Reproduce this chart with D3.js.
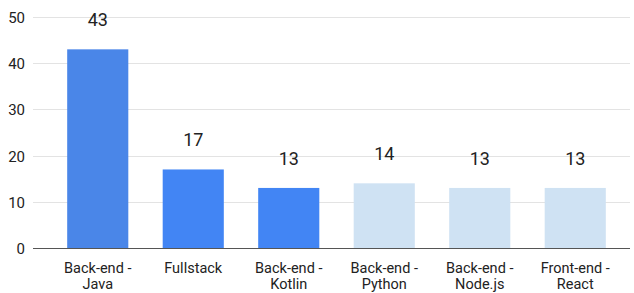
<!DOCTYPE html>
<html>
<head>
<meta charset="utf-8">
<script src="https://cdn.jsdelivr.net/npm/d3@7"></script>
<style>
  body { margin: 0; background: #fff; }
  text { font-family: Roboto, Arial, sans-serif; fill: #222; }
</style>
</head>
<body>
<div id="vis"></div>
<script>
const categories = ["Back-end - Java", "Fullstack", "Back-end - Kotlin", "Back-end - Python", "Back-end - Node.js", "Front-end - React"];
const values = [43, 17, 13, 14, 13, 13];
const barColors = ["#4a86e8", "#4285f4", "#4285f4", "#cfe2f3", "#cfe2f3", "#cfe2f3"];
const yTicks = [0, 10, 20, 30, 40, 50];

const width = 634, height = 293;
const margin = {top: 17, right: 4, bottom: 45, left: 33};

const svg = d3.select("#vis")
    .append("svg")
    .attr("width", width)
    .attr("height", height);

const x = d3.scaleBand()
    .domain(categories)
    .range([50, 623])
    .paddingInner(0.36)
    .paddingOuter(0.18);

const y = d3.scaleLinear()
    .domain([0, 50])
    .range([height - margin.bottom, margin.top]);

// gridlines
svg.append("g")
    .selectAll("line")
    .data(yTicks.filter(d => d > 0))
    .enter()
    .append("line")
    .attr("x1", margin.left)
    .attr("x2", width - margin.right)
    .attr("y1", d => Math.round(y(d)) + 0.5)
    .attr("y2", d => Math.round(y(d)) + 0.5)
    .attr("stroke", "#e3e3e3")
    .attr("stroke-width", 1);

// y tick labels
svg.append("g")
    .selectAll("text")
    .data(yTicks)
    .enter()
    .append("text")
    .attr("x", 25)
    .attr("y", d => y(d))
    .attr("dy", "0.4em")
    .attr("text-anchor", "end")
    .style("font-size", "15px")
    .text(d => d);

// bars
svg.append("g")
    .selectAll("rect")
    .data(values)
    .enter()
    .append("rect")
    .attr("x", (d, i) => x(categories[i]))
    .attr("width", x.bandwidth())
    .attr("y", d => y(d))
    .attr("height", d => y(0) - y(d))
    .attr("fill", (d, i) => barColors[i]);

// value labels
svg.append("g")
    .selectAll("text")
    .data(values)
    .enter()
    .append("text")
    .attr("x", (d, i) => x(categories[i]) + x.bandwidth() / 2)
    .attr("y", d => y(d) - 23)
    .attr("text-anchor", "middle")
    .style("font-size", "18px")
    .text(d => d);

// baseline
svg.append("line")
    .attr("x1", margin.left)
    .attr("x2", width - margin.right)
    .attr("y1", Math.round(y(0)) + 0.5)
    .attr("y2", Math.round(y(0)) + 0.5)
    .attr("stroke", "#555")
    .attr("stroke-width", 1);

// category labels: one text per line so the lines don't collide
const lines = [];
categories.forEach(d => {
    const parts = d.includes(" - ") ? [d.split(" - ")[0] + " -", d.split(" - ")[1]] : [d];
    parts.forEach((p, i) => lines.push({cat: d, text: p, row: i}));
});

svg.append("g")
    .selectAll("text")
    .data(lines)
    .enter()
    .append("text")
    .attr("x", d => x(d.cat) + x.bandwidth() / 2)
    .attr("y", d => 272.5 + d.row * 16.5)
    .attr("text-anchor", "middle")
    .style("font-size", "14.5px")
    .text(d => d.text);
</script>
</body>
</html>
